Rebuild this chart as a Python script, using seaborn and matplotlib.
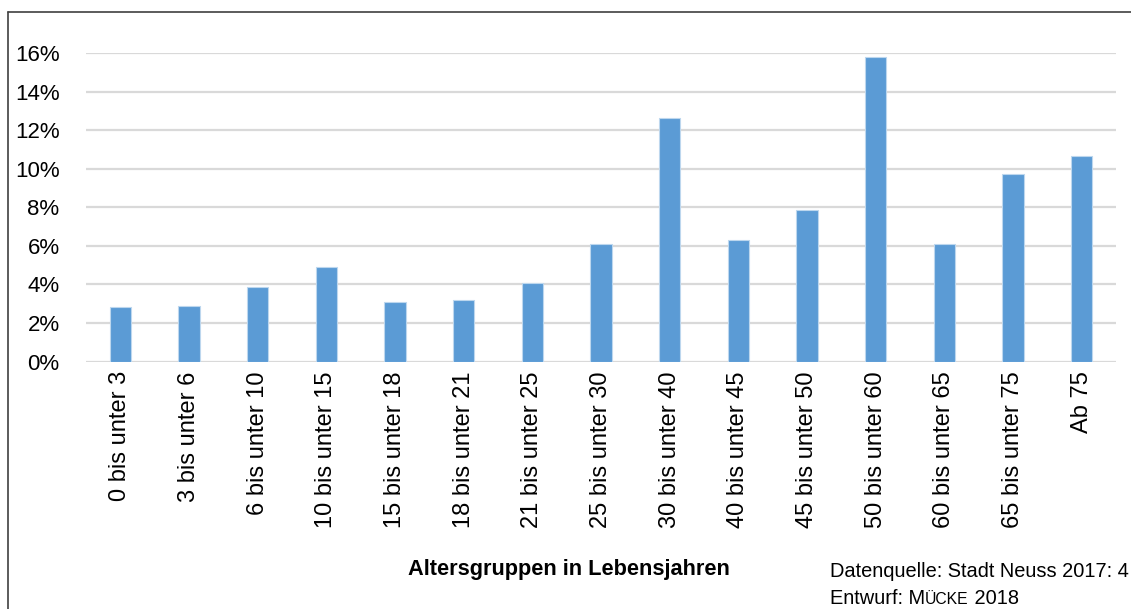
import matplotlib
matplotlib.use('Agg')
import matplotlib.pyplot as plt
import matplotlib.lines as mlines
import seaborn as sns
import pandas as pd

groups = ['0 bis unter 3', '3 bis unter 6', '6 bis unter 10', '10 bis unter 15',
          '15 bis unter 18', '18 bis unter 21', '21 bis unter 25', '25 bis unter 30',
          '30 bis unter 40', '40 bis unter 45', '45 bis unter 50', '50 bis unter 60',
          '60 bis unter 65', '65 bis unter 75', 'Ab 75']
shares = [2.83, 2.88, 3.86, 4.90, 3.09, 3.17, 4.06, 6.11,
          12.63, 6.32, 7.87, 15.81, 6.08, 9.71, 10.64]
yticks = [0, 2, 4, 6, 8, 10, 12, 14, 16]

sns.set_style('white')
plt.rcParams['font.family'] = ['Liberation Sans', 'DejaVu Sans']

df = pd.DataFrame({'group': groups, 'share': shares})

fig = plt.figure(figsize=(11.31, 6.09), dpi=100)
ax = fig.add_axes([86 / 1131, 1 - 361.5 / 609, 1030 / 1131, 308.5 / 609])
sns.barplot(data=df, x='group', y='share', color='#5B9BD5', saturation=1,
            width=0.31, edgecolor='#BDD7EE', linewidth=0.8, ax=ax, zorder=3)

ax.set_ylim(0, 16)
ax.set_xlim(-0.5, len(groups) - 0.5)
ax.set_yticks(yticks)
ax.set_yticklabels([f'{t}%' for t in yticks], fontsize=16, color='black')
ax.tick_params(axis='y', length=0, pad=19)
ax.tick_params(axis='x', length=0, pad=7)
ax.set_xticks(range(len(groups)))
ax.set_xticklabels(groups, rotation=90, fontsize=17, va='top', color='black')
ax.set_xlabel('')
ax.set_ylabel('')
ax.grid(axis='y', color='#d9d9d9', linewidth=1.6, zorder=0)
for s in ax.spines.values():
    s.set_visible(False)

fig.text(569 / 1131, 1 - 570 / 609, 'Altersgruppen in Lebensjahren', ha='center', va='center',
         fontsize=15.7, fontweight='bold', color='black')
fig.text(830 / 1131, 1 - 577 / 609, 'Datenquelle: Stadt Neuss 2017: 4', ha='left', va='baseline',
         fontsize=14.4, color='black')
# "MÜCKE" in small caps
ybase = 1 - 604 / 609
t1 = fig.text(830 / 1131, ybase, 'Entwurf: M', ha='left', va='baseline',
              fontsize=14.4, color='black')
fig.canvas.draw()
t2 = fig.text(t1.get_window_extent().x1 / fig.bbox.width, ybase, 'ÜCKE',
              fontsize=11.3, color='black', va='baseline')
fig.canvas.draw()
fig.text(t2.get_window_extent().x1 / fig.bbox.width, ybase, ' 2018', ha='left', va='baseline',
         fontsize=14.4, color='black')

# outer frame (top and left edges visible)
fig.add_artist(mlines.Line2D([8 / 1131, 1], [1 - 12 / 609, 1 - 12 / 609], color='#404040', lw=1.2))
fig.add_artist(mlines.Line2D([8 / 1131, 8 / 1131], [0, 1 - 12 / 609], color='#404040', lw=1.2))

fig.savefig('out.png', dpi=100)
